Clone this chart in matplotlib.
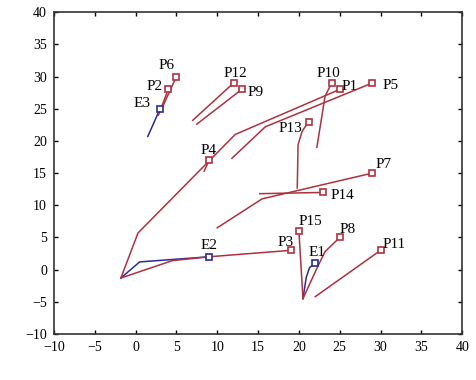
import matplotlib.pyplot as plt

plt.rcParams['font.family'] = ['Liberation Serif', 'DejaVu Serif']

RED = '#b0303f'
BLUE = '#2b2b95'

# pursuer trajectories (x list, y list), last point is the labelled end
p1_x = [-1.8, 0.3, 12.2, 25.0]
p1_y = [-1.3, 5.7, 21.0, 28.0]
p2_x = [2.8, 4.0]
p2_y = [24.0, 28.0]
p3_x = [-1.8, 4.5, 9.0, 19.0]
p3_y = [-1.3, 1.4, 2.0, 3.0]
p4_x = [8.4, 9.0]
p4_y = [15.3, 17.0]
p5_x = [11.8, 15.9, 29.0]
p5_y = [17.3, 22.2, 29.0]
p6_x = [3.2, 5.0]
p6_y = [25.0, 30.0]
p7_x = [10.0, 15.5, 29.0]
p7_y = [6.5, 11.0, 15.0]
p8_x = [20.5, 22.2, 23.2, 25.0]
p8_y = [-4.5, 0.2, 2.8, 5.0]
p9_x = [7.5, 13.0]
p9_y = [22.6, 28.0]
p10_x = [22.2, 23.2, 24.0]
p10_y = [19.0, 26.9, 29.0]
p11_x = [22.0, 30.0]
p11_y = [-4.2, 3.0]
p12_x = [7.0, 12.0]
p12_y = [23.2, 29.0]
p13_x = [19.8, 19.9, 20.4, 21.2]
p13_y = [12.7, 19.4, 21.5, 23.0]
p14_x = [15.2, 23.0]
p14_y = [11.8, 12.0]
p15_x = [20.5, 20.0]
p15_y = [-4.5, 6.0]

# evader trajectories
e1_x = [20.5, 20.9, 21.3, 22.0]
e1_y = [-4.5, -1.2, 0.3, 1.0]
e2_x = [-1.8, 0.5, 9.0]
e2_y = [-1.3, 1.2, 2.0]
e3_x = [1.5, 3.0]
e3_y = [20.7, 25.0]

pursuers = [
    ('P1', p1_x, p1_y, (7, 2)),
    ('P2', p2_x, p2_y, (-10, 2)),
    ('P3', p3_x, p3_y, (-4, 6)),
    ('P4', p4_x, p4_y, (0, 7)),
    ('P5', p5_x, p5_y, (13, -2)),
    ('P6', p6_x, p6_y, (-7, 8)),
    ('P7', p7_x, p7_y, (8, 6)),
    ('P8', p8_x, p8_y, (6, 6)),
    ('P9', p9_x, p9_y, (10, -2)),
    ('P10', p10_x, p10_y, (-2, 7)),
    ('P11', p11_x, p11_y, (10, 4)),
    ('P12', p12_x, p12_y, (1, 7)),
    ('P13', p13_x, p13_y, (-13, -5)),
    ('P14', p14_x, p14_y, (14, -2)),
    ('P15', p15_x, p15_y, (8, 7)),
]
evaders = [
    ('E1', e1_x, e1_y, (1, 8)),
    ('E2', e2_x, e2_y, (0, 8)),
    ('E3', e3_x, e3_y, (-13, 4)),
]

fig = plt.figure(figsize=(4.77, 3.80), dpi=100)
ax = fig.add_axes([0.113, 0.121, 0.856, 0.847])

for name, xs, ys, off in evaders:
    ax.plot(xs, ys, color=BLUE, lw=1.1)
for name, xs, ys, off in pursuers:
    ax.plot(xs, ys, color=RED, lw=1.1)

for group, col in ((pursuers, RED), (evaders, BLUE)):
    for name, xs, ys, off in group:
        ax.plot(xs[-1], ys[-1], 's', ms=4.5, mfc='white', mec=col, mew=1.2)
        ax.annotate(name, (xs[-1], ys[-1]), xytext=off, textcoords='offset points',
                    ha='center', va='center', fontsize=11)

ax.set_xlim(-10, 40)
ax.set_ylim(-10, 40)
ax.set_xticks(range(-10, 41, 5))
ax.set_yticks(range(-10, 41, 5))
ax.tick_params(direction='in', length=3, top=True, right=True, labelsize=10,
               width=1, pad=5)
for s in ax.spines.values():
    s.set_linewidth(1.2)
    s.set_color('#333333')

plt.savefig('out.png')
